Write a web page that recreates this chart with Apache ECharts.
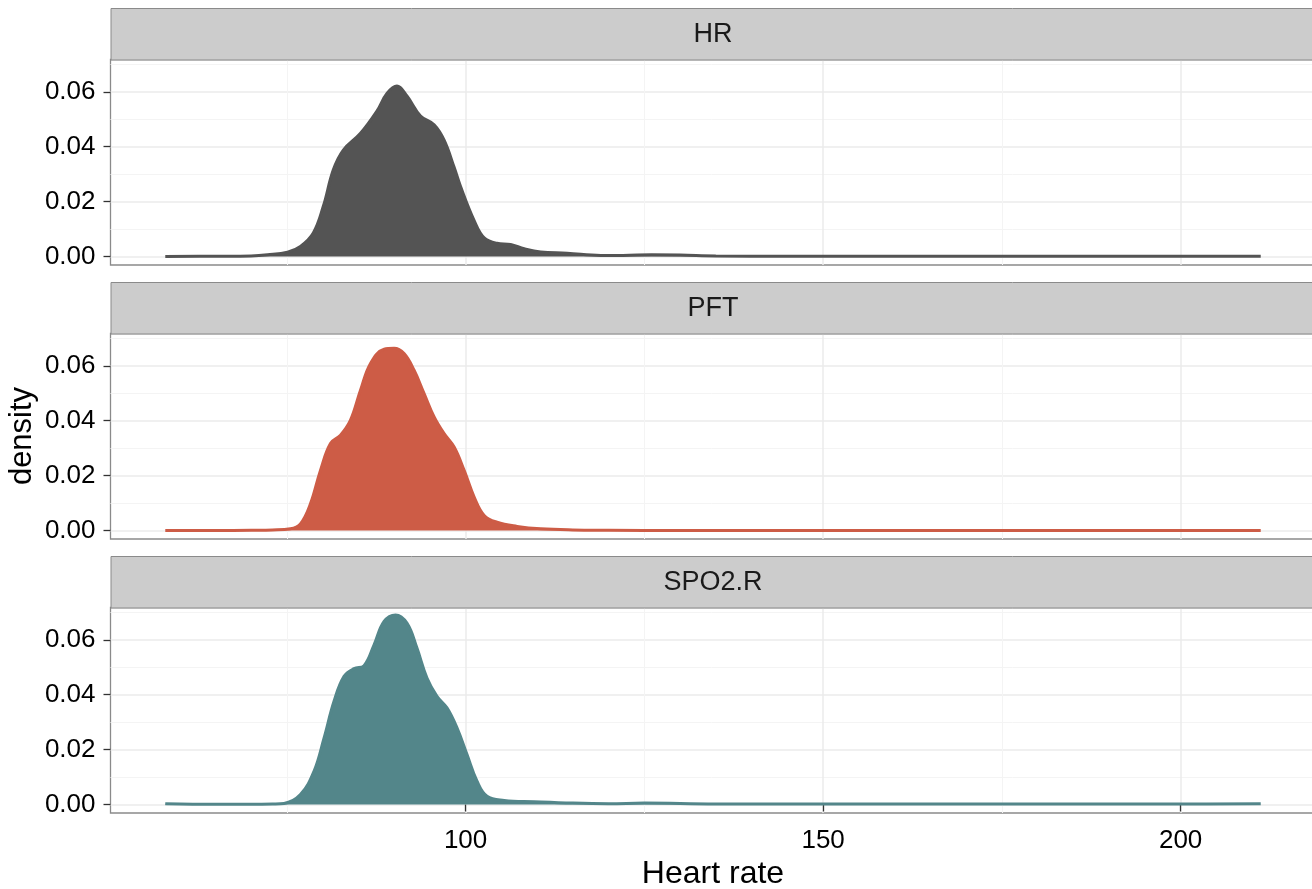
<!DOCTYPE html>
<html>
<head>
<meta charset="utf-8">
<script src="https://cdn.jsdelivr.net/npm/echarts@6/dist/echarts.min.js"></script>
<style>
html,body{margin:0;padding:0;background:#fff;}
#chart{width:1312px;height:889px;}
</style>
</head>
<body>
<div id="chart"></div>
<script>
// ---- data ----
const panelNames = ['HR', 'PFT', 'SPO2.R'];
const panelColors = ['#545454', '#CD5C46', '#53868A'];

const hrX = [58, 65, 70, 72.3, 75.1, 76.9, 78.7, 80.1, 81.5, 82.9, 85.3, 87.6, 89.0, 90.4, 91.8, 93.7, 95.6, 97.0, 98.4, 99.3, 101.2, 102.6, 104.4, 106.3, 108.2, 110.5, 114.2, 118.9, 122, 126, 130, 135, 145, 160, 180, 200, 211.2];
const hrY = [0, 0.0001, 0.0002, 0.0006, 0.0016, 0.0037, 0.0086, 0.0183, 0.0316, 0.0388, 0.0449, 0.0530, 0.0594, 0.0621, 0.0585, 0.0512, 0.0480, 0.0424, 0.0325, 0.0255, 0.0131, 0.0068, 0.0048, 0.0044, 0.0028, 0.0016, 0.0012, 0.0004, 0.0004, 0.0006, 0.0005, 0.0002, 0.0001, 0.0001, 0.0001, 0.0001, 0.0001];

const pftX = [58, 65, 70, 73, 75.5, 76.9, 78.3, 79.7, 81.1, 82.5, 83.9, 85.3, 86.7, 88.6, 90.0, 91.4, 92.8, 94.2, 95.6, 97.0, 98.4, 99.8, 101.2, 102.6, 104.4, 107.2, 110.5, 115, 120, 130, 150, 180, 211.2];
const pftY = [0, 0, 0.0001, 0.0002, 0.0006, 0.0024, 0.0097, 0.0219, 0.0317, 0.0347, 0.0402, 0.0511, 0.0609, 0.0661, 0.0664, 0.0645, 0.0584, 0.0499, 0.0414, 0.0353, 0.0304, 0.0219, 0.0122, 0.0055, 0.0030, 0.0015, 0.0006, 0.0002, 0.0001, 0, 0, 0, 0];

const spoX = [58, 65, 70, 73, 74.6, 76.9, 78.8, 80.2, 81.6, 83.0, 84.4, 85.8, 87.2, 88.6, 90.2, 91.8, 93.2, 94.6, 96.0, 97.4, 98.8, 100.2, 101.6, 103.0, 105.4, 109.6, 115, 120, 125, 135, 150, 180, 200, 211.2];
const spoY = [0.0003, 0.0001, 0.0001, 0.0002, 0.0004, 0.0036, 0.0121, 0.0242, 0.0376, 0.0467, 0.0495, 0.0506, 0.0582, 0.0667, 0.0691, 0.0661, 0.0570, 0.0461, 0.0394, 0.0352, 0.0279, 0.0182, 0.0085, 0.0030, 0.0015, 0.0010, 0.0005, 0.0003, 0.0005, 0.0002, 0.0002, 0.0002, 0.0002, 0.0003];

const xMajorTicks = [100, 150, 200];
const xMinorTicks = [75, 125, 175];
const yMajorTicks = [0, 0.02, 0.04, 0.06];
const yMinorTicks = [0.01, 0.03, 0.05, 0.07];
const xLimits = [50.34, 218.86];
const yLimits = [-0.0031, 0.0718];

const xTitle = 'Heart rate';
const yTitle = 'density';

// ---- layout ----
const FONT = '"Liberation Sans", Arial, Helvetica, sans-serif';
const plotLeft = 110.5;
const plotWidth = 1205;
const plotTops = [59.5, 333.5, 607.5];
const plotHeight = 205.5;
const stripTops = [8, 282, 556];
const stripHeight = 51.5;

const seriesXs = [hrX, pftX, spoX];
const seriesYs = [hrY, pftY, spoY];

const grids = [], xAxes = [], yAxes = [], series = [], graphics = [];

for (let i = 0; i < 3; i++) {
  const isBottom = i === 2;
  grids.push({
    left: plotLeft, top: plotTops[i], width: plotWidth, height: plotHeight,
    outerBoundsMode: 'none', containLabel: false,
    show: true, backgroundColor: '#ffffff', borderColor: '#8a8a8a', borderWidth: 1.3, z: 0
  });
  // minor x
  xAxes.push({
    gridIndex: i, type: 'value', min: xLimits[0], max: xLimits[1], position: 'top',
    axisLine: {show: false}, axisTick: {show: false, customValues: xMinorTicks},
    axisLabel: {show: false, customValues: xMinorTicks},
    splitLine: {show: true, lineStyle: {color: '#f4f4f4', width: 1}}
  });
  // major x
  xAxes.push({
    gridIndex: i, type: 'value', min: xLimits[0], max: xLimits[1], position: 'bottom',
    name: isBottom ? xTitle : '', nameLocation: 'middle', nameGap: 45,
    nameTextStyle: {fontSize: 32, color: '#000', fontFamily: FONT},
    axisLine: {show: false},
    axisTick: {show: isBottom, customValues: xMajorTicks, length: 7, lineStyle: {color: '#333', width: 1.3}},
    axisLabel: {show: isBottom, customValues: xMajorTicks, fontSize: 26, color: '#000', margin: 15, fontFamily: FONT},
    splitLine: {show: true, lineStyle: {color: '#ebebeb', width: 1.5}}
  });
  // minor y
  yAxes.push({
    gridIndex: i, type: 'value', min: yLimits[0], max: yLimits[1], position: 'right',
    axisLine: {show: false}, axisTick: {show: false, customValues: yMinorTicks},
    axisLabel: {show: false, customValues: yMinorTicks},
    splitLine: {show: true, lineStyle: {color: '#f4f4f4', width: 1}}
  });
  // major y
  yAxes.push({
    gridIndex: i, type: 'value', min: yLimits[0], max: yLimits[1], position: 'left',
    axisLine: {show: false},
    axisTick: {show: true, customValues: yMajorTicks, length: 7, lineStyle: {color: '#333', width: 1.3}},
    axisLabel: {show: true, customValues: yMajorTicks, fontSize: 26, color: '#000', margin: 15, fontFamily: FONT,
      formatter: v => v.toFixed(2)},
    splitLine: {show: true, lineStyle: {color: '#ebebeb', width: 1.5}}
  });
  const pts = seriesXs[i].map((x, k) => [x, seriesYs[i][k]]);
  series.push({
    type: 'line', name: panelNames[i], xAxisIndex: 2 * i + 1, yAxisIndex: 2 * i + 1,
    data: pts, smooth: 0.4, showSymbol: false, silent: true,
    lineStyle: {color: panelColors[i], width: 3},
    areaStyle: {color: panelColors[i], opacity: 1},
    z: 3
  });
  graphics.push({
    type: 'rect', left: plotLeft, top: stripTops[i],
    shape: {x: 0, y: 0, width: plotWidth, height: stripHeight},
    style: {fill: '#cccccc', stroke: '#8a8a8a', lineWidth: 1}, z: 10
  });
  graphics.push({
    type: 'text', x: plotLeft + plotWidth / 2, y: stripTops[i] + stripHeight / 2 + 0.5,
    style: {text: panelNames[i], fill: '#1a1a1a', font: '27px ' + FONT, textAlign: 'center', textVerticalAlign: 'middle'},
    z: 11
  });
}

graphics.push({
  type: 'text', x: 22, y: 436, rotation: Math.PI / 2,
  style: {text: yTitle, fill: '#000', font: '31px ' + FONT, textAlign: 'center', textVerticalAlign: 'middle'},
  z: 11
});

const chart = echarts.init(document.getElementById('chart'), null, {renderer: 'canvas'});
chart.setOption({
  animation: false,
  backgroundColor: '#ffffff',
  grid: grids,
  xAxis: xAxes,
  yAxis: yAxes,
  series: series,
  graphic: graphics
});
</script>
</body>
</html>
